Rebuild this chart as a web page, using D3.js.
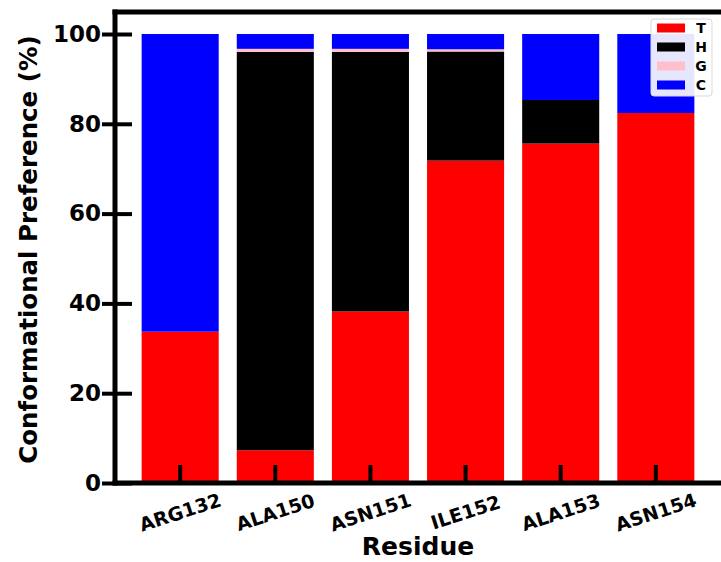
<!DOCTYPE html>
<html><head><meta charset="utf-8">
<script src="https://cdn.jsdelivr.net/npm/d3@7"></script>
<style>body{margin:0;background:#fff}svg{display:block;font-family:"DejaVu Sans",sans-serif;font-weight:bold}</style>
</head><body><svg id="c" width="721" height="562"></svg>
<script>
const residues = ["ARG132","ALA150","ASN151","ILE152","ALA153","ASN154"];
const seriesKeys = ["T","H","G","C"];
const T = [33.7, 7.3, 38.2, 71.8, 75.6, 82.4];
const H = [0, 88.7, 57.8, 24.3, 9.7, 0];
const G = [0, 0.7, 0.7, 0.5, 0, 0];
const C = [66.3, 3.3, 3.3, 3.4, 14.7, 17.6];
const yTicks = [0,20,40,60,80,100];
const colors = {T:"#ff0000", H:"#000000", G:"#ffc0cb", C:"#0000ff"};

const rows = residues.map((r,i)=>({res:r, T:T[i], H:H[i], G:G[i], C:C[i]}));
const stack = d3.stack().keys(seriesKeys)(rows);

const svg = d3.select("#c");
const L=115, R=721, TOP=12, B=483;
const x = d3.scaleBand().domain(residues).range([L, R]).paddingInner(0.19).paddingOuter(0.28);
const y = d3.scaleLinear().domain([0,100]).range([B, 34]);

// bars
svg.append("g").selectAll("g").data(stack).join("g")
  .attr("fill", d=>colors[d.key])
  .selectAll("rect").data(d=>d).join("rect")
  .attr("x", d=>x(d.data.res)).attr("width", x.bandwidth())
  .attr("y", d=>y(d[1])).attr("height", d=>y(d[0])-y(d[1]));

// y axis ticks (in-out)
const yAxis = d3.axisLeft(y).tickValues(yTicks).tickSize(0).tickPadding(0);
const ga = svg.append("g").attr("transform",`translate(${L},0)`).call(yAxis);
ga.select(".domain").remove();
ga.selectAll(".tick line").attr("x1",-13).attr("x2",17).attr("stroke","#000").attr("stroke-width",4);
ga.selectAll(".tick text").attr("x",-14).attr("font-size",23).attr("font-weight","bold")
  .attr("font-family","DejaVu Sans").attr("fill","#000");

// x axis ticks (inward)
const xAxis = d3.axisBottom(x).tickSize(0);
const gx = svg.append("g").attr("transform",`translate(0,${B})`).call(xAxis);
gx.select(".domain").remove();
gx.selectAll(".tick line").attr("y1",0).attr("y2",-18).attr("stroke","#000").attr("stroke-width",4);
gx.selectAll(".tick text").attr("y",0).attr("dy",0)
  .attr("font-size",19).attr("font-weight","bold").attr("font-family","DejaVu Sans").attr("fill","#000")
  .attr("text-anchor","middle").attr("dominant-baseline","central")
  .attr("transform","translate(0,29) rotate(-18)");

// spines
const sp = svg.append("g").attr("stroke","#000").attr("stroke-width",5).attr("fill","none");
sp.append("line").attr("x1",L).attr("x2",L).attr("y1",TOP-2.5).attr("y2",B+2.5);
sp.append("line").attr("x1",L-2.5).attr("x2",R+3).attr("y1",B).attr("y2",B);
sp.append("line").attr("x1",L-2.5).attr("x2",R+3).attr("y1",TOP).attr("y2",TOP);

// axis labels
svg.append("text").attr("transform",`translate(28,${(TOP+B)/2+2}) rotate(-90)`)
  .attr("text-anchor","middle").attr("dominant-baseline","central")
  .attr("font-size",24.5).attr("fill","#000").text("Conformational Preference (%)");
svg.append("text").attr("x",(L+R)/2).attr("y",555).attr("text-anchor","middle")
  .attr("font-size",25).attr("fill","#000").text("Residue");

// legend
const lg = svg.append("g");
lg.append("rect").attr("x",651).attr("y",19).attr("width",61).attr("height",77).attr("rx",3)
  .attr("fill","#fff").attr("fill-opacity",0.9).attr("stroke","#d9d9d9").attr("stroke-width",1);
seriesKeys.forEach((k,i)=>{
  const cy = 28 + i*19;
  lg.append("rect").attr("x",657).attr("y",cy-4.5).attr("width",28).attr("height",9).attr("fill",colors[k]);
  lg.append("text").attr("x",701).attr("y",cy).attr("text-anchor","middle").attr("dominant-baseline","central")
    .attr("font-size",14).attr("fill","#000").text(k);
});
</script></body></html>
